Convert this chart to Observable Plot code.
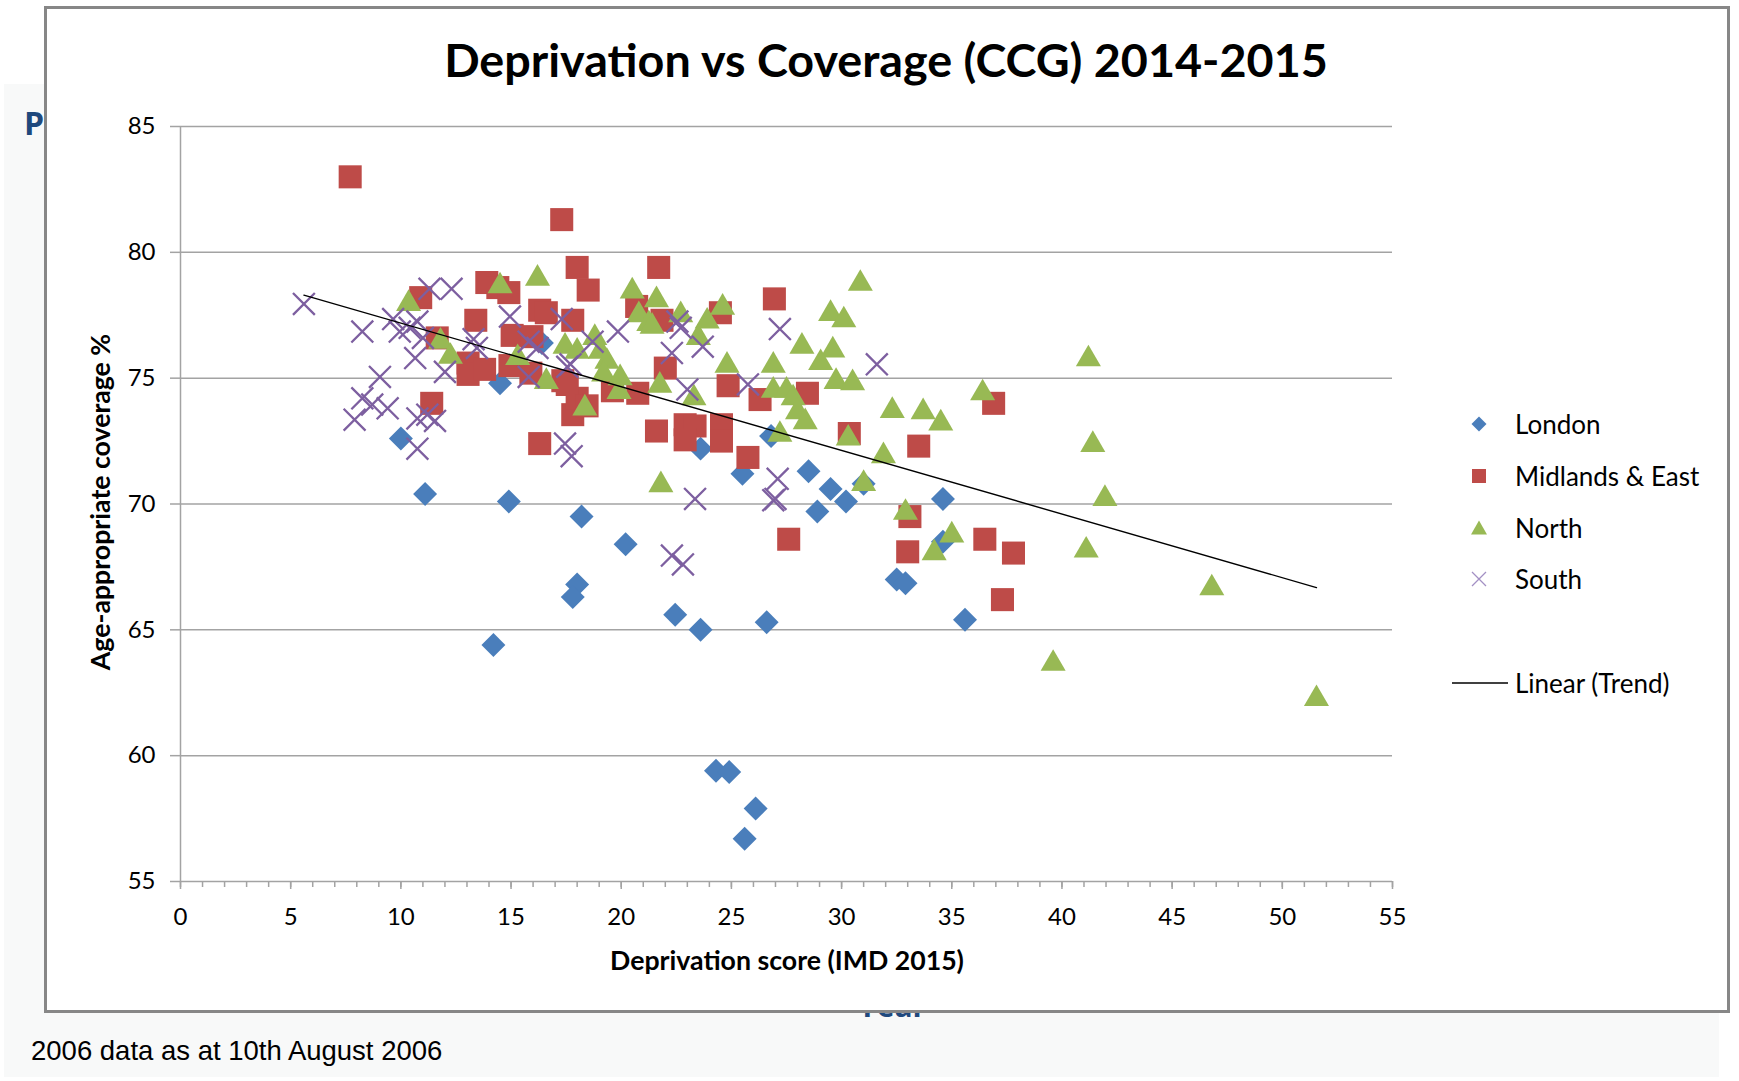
<!DOCTYPE html>
<html>
<head>
<meta charset="utf-8">
<script src="https://cdn.jsdelivr.net/npm/d3@7"></script>
<script src="https://cdn.jsdelivr.net/npm/@observablehq/plot@0.6"></script>
<style>
  html, body { margin: 0; padding: 0; background: #fff; }
  #page { position: relative; width: 1739px; height: 1081px; overflow: hidden; background: #fff; font-family: Lato, "Open Sans", sans-serif; }
  .abs { position: absolute; white-space: nowrap; }
  #panel { left: 4px; top: 84px; width: 1715px; height: 993px; background: #f8f9f9; }
  #box { left: 44px; top: 6px; width: 1686px; height: 1007px; box-sizing: border-box; background: #fff; border: 3px solid #878787; }
  #chart { left: 0; top: 0; }
  .legend-row { position: absolute; display: flex; align-items: center; font-size: 26px; color: #000; }
</style>
</head>
<body>
<div id="page">
  <div id="panel" class="abs"></div>
  <div class="abs" style="left:24px;top:101px;font:bold 32px 'Open Sans',sans-serif;color:#1f497d;">P</div>
  <div class="abs" style="left:858px;top:985px;font:bold 30px 'Open Sans',sans-serif;color:#1f497d;">Year</div>
  <div class="abs" style="left:31px;top:1035px;font:27.5px 'Liberation Sans',Arial,sans-serif;color:#000;">2006 data as at 10th August 2006</div>
  <div id="box" class="abs"></div>
  <div id="chart" class="abs"></div>
  <div class="abs" style="left:0;width:1772px;top:31px;text-align:center;font-weight:bold;font-size:46.7px;color:#000;">Deprivation vs Coverage (CCG) 2014-2015</div>
  <div class="abs" style="left:100px;top:502px;transform:translate(-50%,-50%) rotate(-90deg);font-weight:bold;font-size:26.7px;color:#000;">Age-appropriate coverage %</div>
  <div class="abs" style="left:787px;top:960px;transform:translate(-50%,-50%);font-weight:bold;font-size:26.7px;color:#000;">Deprivation score (IMD 2015)</div>
  <div id="legend"></div>
</div>
<script>
// ---- data: [deprivation score, coverage %] ----
const london = [[14.5,74.8],[16.4,76.4],[10.0,72.6],[11.1,70.4],[14.9,70.1],[18.2,69.5],[18.0,66.8],[17.8,66.3],[14.2,64.4],[20.2,68.4],[22.45,65.6],[23.6,65.0],[26.6,65.3],[25.5,71.2],[28.5,71.3],[29.5,70.6],[30.2,70.1],[28.9,69.7],[31.0,70.8],[34.6,70.2],[32.5,67.0],[32.9,66.85],[34.6,68.5],[35.6,65.4],[24.3,59.4],[24.9,59.35],[26.1,57.9],[25.6,56.7],[23.6,72.2],[26.8,72.7]];
const midlands = [[7.7,83.0],[17.3,81.3],[18.0,79.4],[18.5,78.5],[13.9,78.8],[14.4,78.6],[14.9,78.4],[10.9,78.2],[13.4,77.3],[16.3,77.7],[16.6,77.6],[17.8,77.3],[15.05,76.7],[15.95,76.65],[11.65,76.6],[13.05,75.6],[13.05,75.15],[13.8,75.35],[14.95,75.5],[15.9,75.2],[17.35,74.9],[17.8,73.55],[18.0,74.2],[11.4,74.0],[16.3,72.4],[21.7,79.4],[20.7,77.85],[21.85,77.3],[24.5,77.6],[26.95,78.15],[22.0,75.4],[17.55,74.75],[18.45,73.9],[19.6,74.5],[20.75,74.4],[24.85,74.7],[26.3,74.15],[28.45,74.4],[21.6,72.9],[22.9,73.15],[23.35,73.1],[22.9,72.55],[24.55,73.15],[24.55,72.5],[25.75,71.85],[30.35,72.8],[33.5,72.3],[27.6,68.6],[33.1,69.5],[33.0,68.1],[36.9,74.0],[36.5,68.6],[37.8,68.05],[37.3,66.2]];
const north = [[10.35,78.1],[14.5,78.8],[16.2,79.1],[11.8,76.6],[12.25,76.0],[15.3,75.95],[16.6,75.0],[17.45,76.4],[18.0,76.2],[18.35,73.95],[20.5,78.6],[21.6,78.25],[20.8,77.65],[21.25,77.3],[21.4,77.2],[22.7,77.65],[23.9,77.4],[24.6,77.95],[23.5,76.75],[18.8,76.75],[19.05,76.2],[19.35,75.8],[19.2,75.3],[19.95,75.15],[19.9,74.6],[21.75,74.85],[23.3,74.35],[24.8,75.65],[26.9,75.65],[26.9,74.65],[27.5,74.65],[27.8,74.35],[28.0,73.8],[28.35,73.4],[27.2,72.9],[21.8,70.9],[30.85,78.9],[29.5,77.7],[30.1,77.45],[28.2,76.4],[29.6,76.25],[29.05,75.75],[29.75,75.0],[30.5,74.95],[30.3,72.75],[31.9,72.05],[32.3,73.85],[33.7,73.8],[34.5,73.35],[31.0,70.95],[32.9,69.8],[35.0,68.9],[34.2,68.2],[36.4,74.55],[41.2,75.9],[41.4,72.5],[41.95,70.35],[41.1,68.3],[46.8,66.8],[39.6,63.8],[51.55,62.4]];
const south = [[5.6,77.95],[8.25,76.85],[11.3,78.55],[12.3,78.55],[9.65,77.35],[9.95,76.85],[10.75,77.25],[10.4,77.0],[11.0,76.6],[10.65,75.8],[12.0,75.25],[9.05,75.05],[8.25,74.2],[8.7,73.95],[9.4,73.8],[7.9,73.35],[10.75,73.4],[11.2,73.55],[11.55,73.3],[10.75,72.2],[14.95,77.45],[13.3,76.55],[13.45,76.2],[15.8,76.45],[16.2,76.2],[17.3,77.35],[15.8,75.05],[17.55,75.45],[17.45,72.4],[17.75,71.9],[18.7,76.45],[19.85,76.85],[17.7,75.55],[22.3,76.0],[22.7,77.0],[22.55,77.25],[23.7,76.25],[23.0,74.55],[25.75,74.75],[27.2,76.95],[31.6,75.55],[27.1,71.0],[26.9,70.15],[27.0,70.2],[23.35,70.2],[22.3,67.95],[22.8,67.6]];

// trend line endpoints (Excel linear trendline)
const trendX = [5.6, 51.55];
const trendY = [78.3, 66.68];

const seriesNames = ["London", "Midlands & East", "North", "South"];
const seriesColors = ["#4a7ebb", "#be4b48", "#98b954", "#7d5fa0"];
const xTicks = [0,5,10,15,20,25,30,35,40,45,50,55];
const yTicks = [55,60,65,70,75,80,85];
const trendLabel = "Linear (Trend)";

const toRows = (arr, region) => arr.map(([x, y]) => ({x, y, region}));
const trendRows = trendX.map((x, i) => ({x, y: trendY[i]}));

const chart = Plot.plot({
  width: 1739,
  height: 1011,
  marginLeft: 180,
  marginRight: 347,
  marginTop: 126,
  marginBottom: 130,
  style: {background: "transparent", fontFamily: "Lato, 'Open Sans', sans-serif", fontSize: "24px", color: "#000", overflow: "visible"},
  x: {domain: [0, 55]},
  y: {domain: [55, 85]},
  marks: [
    Plot.ruleY(yTicks, {stroke: "#a3a3a3", strokeWidth: 1.5}),
    Plot.ruleX([0], {stroke: "#a3a3a3", strokeWidth: 1.5}),
    Plot.axisY({ticks: yTicks, tickSize: 10, tickPadding: 15, stroke: "#a3a3a3", fill: "#000", label: null, strokeWidth: 1.5}),
    Plot.axisX({ticks: d3.range(0, 56, 1), tickSize: 6, tickFormat: () => "", stroke: "#a3a3a3", label: null, strokeWidth: 1.5}),
    Plot.axisX({ticks: xTicks, tickSize: 8, tickPadding: 18, stroke: "#a3a3a3", fill: "#000", label: null, strokeWidth: 1.5}),
    Plot.dot(toRows(london, seriesNames[0]), {x: "x", y: "y", symbol: "diamond2", r: 10.8, fill: seriesColors[0], stroke: "none"}),
    Plot.dot(toRows(midlands, seriesNames[1]), {x: "x", y: "y", symbol: "square", r: 13, fill: seriesColors[1], stroke: "none"}),
    Plot.dot(toRows(north, seriesNames[2]), {x: "x", y: "y", symbol: "triangle", r: 9.3, dy: 3.6, fill: seriesColors[2], stroke: "none"}),
    Plot.dot(toRows(south, seriesNames[3]), {x: "x", y: "y", symbol: "times", r: 10, fill: "none", stroke: seriesColors[3], strokeWidth: 2.3}),
    Plot.line(trendRows, {x: "x", y: "y", stroke: "#000", strokeWidth: 1.4})
  ]
});
document.getElementById("chart").appendChild(chart);

// ---- legend ----
const legend = document.getElementById("legend");
const legendY = [424, 476, 528, 579];
const swatch = [
  `<svg width="20" height="20" viewBox="-10 -10 20 20"><path d="M0,-7.5L7.5,0L0,7.5L-7.5,0Z" fill="${seriesColors[0]}"/></svg>`,
  `<svg width="20" height="20" viewBox="-10 -10 20 20"><rect x="-7" y="-7" width="14" height="14" fill="${seriesColors[1]}"/></svg>`,
  `<svg width="20" height="20" viewBox="-10 -10 20 20"><path d="M0,-7.5L8,6.5L-8,6.5Z" fill="${seriesColors[2]}"/></svg>`,
  `<svg width="20" height="20" viewBox="-10 -10 20 20"><path d="M-7,-7L7,7M-7,7L7,-7" stroke="#a390c4" stroke-width="1.3" fill="none"/></svg>`
];
seriesNames.forEach((name, i) => {
  const row = document.createElement("div");
  row.className = "legend-row";
  row.style.left = "1469px";
  row.style.top = (legendY[i] - 16) + "px";
  row.style.height = "32px";
  row.innerHTML = swatch[i] + `<span style="margin-left:26px">${name}</span>`;
  legend.appendChild(row);
});
const trendRow = document.createElement("div");
trendRow.className = "legend-row";
trendRow.style.left = "1452px";
trendRow.style.top = (683 - 16) + "px";
trendRow.style.height = "32px";
trendRow.innerHTML = `<svg width="56" height="4"><line x1="0" y1="2" x2="56" y2="2" stroke="#000" stroke-width="1.4"/></svg><span style="margin-left:7px">${trendLabel}</span>`;
legend.appendChild(trendRow);
</script>
</body>
</html>
